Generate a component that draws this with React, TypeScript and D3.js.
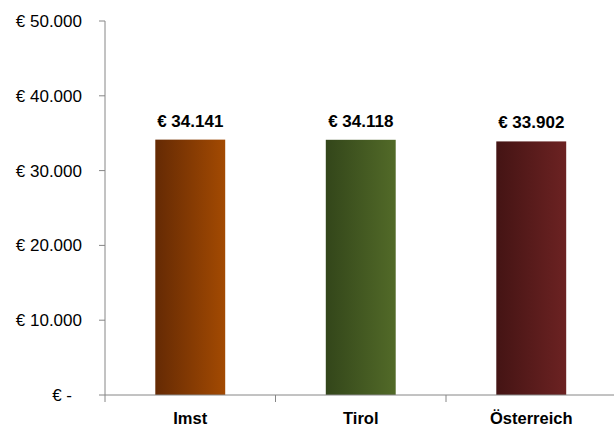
import React from "react";
import * as d3 from "d3";

const categories = ["Imst", "Tirol", "Österreich"];
const values = [34141, 34118, 33902];
const valueLabels = ["€ 34.141", "€ 34.118", "€ 33.902"];
const yTicks = [0, 10000, 20000, 30000, 40000, 50000];
const yTickLabels = ["€ -", "€ 10.000", "€ 20.000", "€ 30.000", "€ 40.000", "€ 50.000"];
const gradients = [
  ["#652a04", "#a34a02"],
  ["#33461a", "#526a28"],
  ["#441414", "#6c2222"],
];

const W = 614;
const H = 429;
const left = 105;
const right = 616.5;
const top = 21;
const bottom = 395;
const FONT = "'Liberation Sans', Arial, sans-serif";

export default function App() {
  const x = d3.scaleBand<string>().domain(categories).range([left, right]).paddingInner(0.59).paddingOuter(0.295);
  const xb = d3.scaleBand<string>().domain(categories).range([left, right]);
  const y = d3.scaleLinear().domain([0, 50000]).range([bottom, top]);
  const axisColor = "#868686";
  return (
    <svg width={W} height={H} style={{ position: "absolute", left: 0, top: 0 }} fontFamily={FONT}>
      <defs>
        {gradients.map((g, i) => (
          <linearGradient key={i} id={`g${i}`} x1="0" x2="1" y1="0" y2="0">
            <stop offset="0" stopColor={g[0]} />
            <stop offset="1" stopColor={g[1]} />
          </linearGradient>
        ))}
      </defs>
      <rect width={W} height={H} fill="#fff" />
      {categories.map((c, i) => (
        <rect key={c} x={x(c)} y={y(values[i])} width={x.bandwidth()} height={bottom - y(values[i])} fill={`url(#g${i})`} />
      ))}
      <line x1={left} x2={left} y1={top} y2={bottom} stroke={axisColor} strokeWidth={1} />
      <line x1={left} x2={right} y1={bottom} y2={bottom} stroke={axisColor} strokeWidth={1} />
      {yTicks.map((t, i) => (
        <g key={t}>
          <line x1={left - 6} x2={left} y1={y(t)} y2={y(t)} stroke={axisColor} />
          <text x={i === 0 ? 72 : 82} y={y(t)} dy="0.35em" textAnchor="end" fontSize={17} fill="#000">
            {yTickLabels[i]}
          </text>
        </g>
      ))}
      {[...categories.map((c) => xb(c) as number), right].map((p, i) => (
        <line key={i} x1={p} x2={p} y1={bottom} y2={bottom + 7} stroke={axisColor} />
      ))}
      {categories.map((c, i) => (
        <g key={c}>
          <text x={(x(c) as number) + x.bandwidth() / 2} y={y(values[i]) - 13} textAnchor="middle" fontSize={17} fontWeight="bold" fill="#000">
            {valueLabels[i]}
          </text>
          <text x={(x(c) as number) + x.bandwidth() / 2} y={424} textAnchor="middle" fontSize={16.5} fontWeight="bold" fill="#000">
            {c}
          </text>
        </g>
      ))}
    </svg>
  );
}
